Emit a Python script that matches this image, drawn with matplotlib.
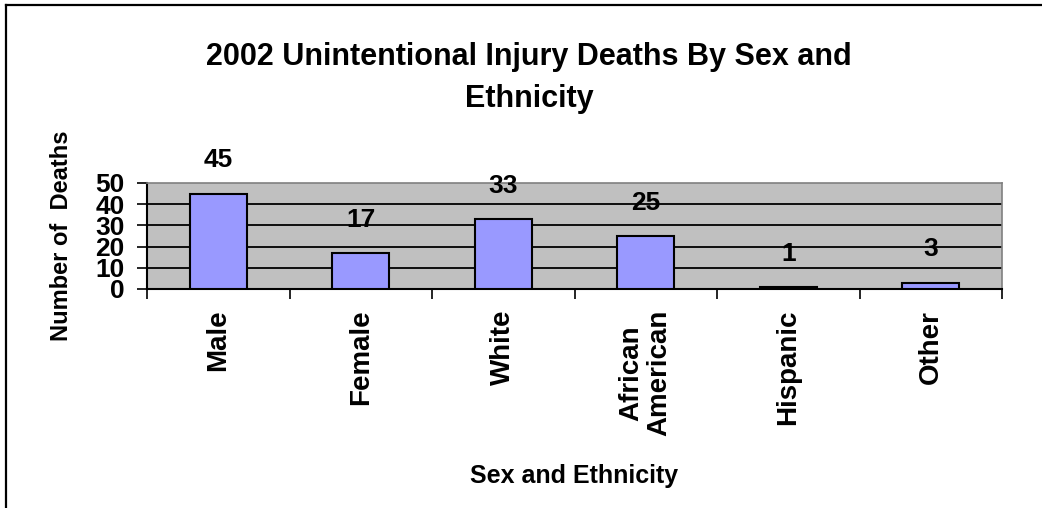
import numpy as np
import matplotlib
matplotlib.use("Agg")
import matplotlib.pyplot as plt
from matplotlib.lines import Line2D

plt.rcParams['font.family'] = ['Liberation Sans', 'DejaVu Sans']
plt.rcParams['font.weight'] = 'bold'

# data
categories = ['Male', 'Female', 'White', 'African\nAmerican', 'Hispanic', 'Other']
deaths = [45, 17, 33, 25, 1, 3]
yticks = [0, 10, 20, 30, 40, 50]

W, H = 1042, 508
fig = plt.figure(figsize=(W / 100, H / 100), dpi=100)
ax = fig.add_axes([147 / W, 1 - 289 / H, (1002 - 147) / W, (289 - 183) / H])
ax.set_facecolor('#C0C0C0')

x = np.arange(len(categories))
bars = ax.bar(x, deaths, width=0.4, color='#9999FF', edgecolor='black',
              linewidth=1.5, zorder=3)

ax.set_xlim(-0.5, len(categories) - 0.5)
ax.set_ylim(0, 50)
ax.set_yticks(yticks)
ax.set_yticklabels([str(t) for t in yticks], fontsize=19, fontweight='bold')
for t in yticks[1:-1]:
    ax.axhline(t, color='black', linewidth=1.3, zorder=1)

# category labels at centres, tick marks between categories
ax.set_xticks(x)
ax.set_xticklabels(categories, rotation=90, fontsize=20, fontweight='bold',
                   multialignment='center', linespacing=1.1)
ax.set_xticks(np.arange(len(categories) + 1) - 0.5, minor=True)
ax.tick_params(axis='x', which='major', length=0, pad=15)
ax.tick_params(axis='x', which='minor', length=7, width=1.2, direction='out')
ax.tick_params(axis='y', length=7, width=1.2, direction='out', pad=9)

for side in ['top', 'right']:
    ax.spines[side].set_color('#808080')
    ax.spines[side].set_linewidth(1.2)
for side in ['left', 'bottom']:
    ax.spines[side].set_color('black')
    ax.spines[side].set_linewidth(1.5)

for xi, v in zip(x, deaths):
    ax.annotate(str(v), (xi, v), xytext=(0, 24), textcoords='offset points',
                ha='center', va='center', fontsize=19, fontweight='bold')

ax.set_ylabel('Number of  Deaths', fontsize=17, fontweight='bold')
ax.yaxis.set_label_coords((73 - 147) / (1002 - 147), 0.5)
ax.set_xlabel('Sex and Ethnicity', fontsize=18, fontweight='bold')
ax.xaxis.set_label_coords(0.5, -(464 - 289) / (289 - 183))

fig.text(529 / W, 1 - 78 / H, '2002 Unintentional Injury Deaths By Sex and\nEthnicity',
         ha='center', va='center', fontsize=22, fontweight='bold', linespacing=1.55)

# frame of the chart area (left and top edges)
fig.add_artist(Line2D([5.5 / W, 5.5 / W], [0, 1 - 5 / H], color='black', linewidth=1.6))
fig.add_artist(Line2D([5.5 / W, 1], [1 - 5 / H, 1 - 5 / H], color='black', linewidth=1.6))

fig.savefig('out.png', dpi=100)
